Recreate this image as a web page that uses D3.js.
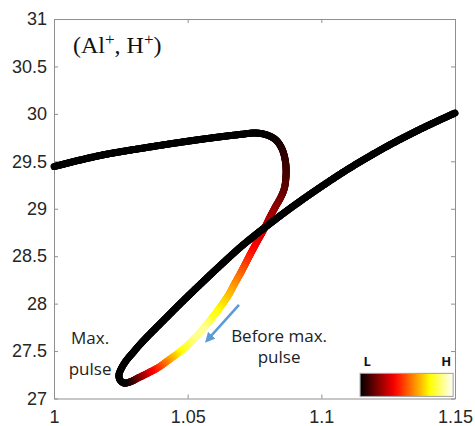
<!DOCTYPE html>
<html>
<head>
<meta charset="utf-8">
<script src="https://cdn.jsdelivr.net/npm/d3@7"></script>
<style>
  html, body { margin: 0; padding: 0; background: #fff; }
  svg { display: block; }
</style>
</head>
<body>
<svg id="chart" width="475" height="426"></svg>
<script>
// ---------- data ----------
const xTicks = [1, 1.05, 1.1, 1.15];
const xTickLabels = ["1", "1.05", "1.1", "1.15"];
const yTicks = [27, 27.5, 28, 28.5, 29, 29.5, 30, 30.5, 31];
const yTickLabels = ["27", "27.5", "28", "28.5", "29", "29.5", "30", "30.5", "31"];

// trajectory (x, y), in path order
const curveX = [1.0000, 1.0172, 1.0359, 1.0546, 1.0696, 1.0756, 1.0797, 1.0830, 1.0853, 1.0866,
                1.0868, 1.0862, 1.0849, 1.0830, 1.0808, 1.0786, 1.0759, 1.0733, 1.0700, 1.0677,
                1.0655, 1.0625, 1.0591, 1.0554, 1.0516, 1.0475, 1.0434, 1.0393, 1.0352, 1.0314,
                1.0284, 1.0262, 1.0247, 1.0243, 1.0251, 1.0269, 1.0296, 1.0325, 1.0359, 1.0415,
                1.0471, 1.0527, 1.0584, 1.0640, 1.0696, 1.0741, 1.0789, 1.0883, 1.0995, 1.1107,
                1.1238, 1.1369, 1.1500];
const curveY = [29.445, 29.561, 29.651, 29.730, 29.783, 29.798, 29.777, 29.725, 29.630, 29.493,
                29.356, 29.219, 29.124, 29.029, 28.913, 28.787, 28.650, 28.513, 28.333, 28.217,
                28.101, 27.975, 27.849, 27.722, 27.606, 27.501, 27.416, 27.332, 27.269, 27.216,
                27.174, 27.163, 27.195, 27.248, 27.311, 27.395, 27.485, 27.580, 27.680, 27.838,
                27.996, 28.149, 28.302, 28.449, 28.592, 28.697, 28.803, 29.003, 29.224, 29.430,
                29.646, 29.837, 30.009];
// pulse intensity along the path (0 = L, 1 = H)
const intensity = [0, 0, 0, 0, 0, 0, 0, 0.02, 0.05, 0.08,
                   0.10, 0.13, 0.16, 0.20, 0.24, 0.29, 0.34, 0.40, 0.50, 0.57,
                   0.64, 0.71, 0.78, 0.90, 0.88, 0.78, 0.64, 0.49, 0.35, 0.21,
                   0.09, 0.02, 0, 0, 0, 0, 0, 0, 0, 0,
                   0, 0, 0, 0, 0, 0, 0, 0, 0, 0,
                   0, 0, 0];

// ---------- layout ----------
const svg = d3.select("#chart");
const mLeft = 54, mRight = 455, mTop = 19, mBottom = 398.5;
const x = d3.scaleLinear().domain([1, 1.15]).range([mLeft, mRight]);
const y = d3.scaleLinear().domain([27, 31]).range([mBottom, mTop]);

const axisColor = "#8f8f8f";
const textColor = "#262626";

// "hot" colour map
function hot(t) {
  t = Math.max(0, Math.min(1, t));
  const r = Math.min(1, t / 0.375);
  const g = Math.max(0, Math.min(1, (t - 0.375) / 0.375));
  const b = Math.max(0, Math.min(1, (t - 0.75) / 0.25));
  return d3.rgb(r * 255, g * 255, b * 255).toString();
}

// ---------- axes ----------
function styleAxis(g) {
  g.select(".domain").attr("stroke", axisColor).attr("stroke-width", 1);
  g.selectAll(".tick line").attr("stroke", axisColor);
  g.selectAll(".tick text").attr("fill", textColor)
    .style("font-family", "'Liberation Sans', Arial, sans-serif").style("font-size", "18px");
}
svg.append("g").attr("transform", `translate(0,${mBottom})`)
  .call(d3.axisBottom(x).tickValues(xTicks).tickFormat((d, i) => xTickLabels[i])
        .tickSizeInner(-4).tickSizeOuter(0).tickPadding(12))
  .call(styleAxis);
svg.append("g").attr("transform", `translate(0,${mTop})`)
  .call(d3.axisTop(x).tickValues(xTicks).tickFormat("").tickSizeInner(-4).tickSizeOuter(0))
  .call(styleAxis);
svg.append("g").attr("transform", `translate(${mLeft},0)`)
  .call(d3.axisLeft(y).tickValues(yTicks).tickFormat((d, i) => yTickLabels[i])
        .tickSizeInner(-4).tickSizeOuter(0).tickPadding(7))
  .call(styleAxis);
svg.append("g").attr("transform", `translate(${mRight},0)`)
  .call(d3.axisRight(y).tickValues(yTicks).tickFormat("").tickSizeInner(-4).tickSizeOuter(0))
  .call(styleAxis);

// ---------- trajectory with colour along path ----------
const pts = curveX.map((d, i) => [x(d), y(curveY[i])]);
const lineGen = d3.line().curve(d3.curveCatmullRom.alpha(0.5));
const guide = svg.append("path").attr("d", lineGen(pts)).attr("fill", "none").attr("stroke", "none");
const total = guide.node().getTotalLength();

// cumulative length at each vertex
const tmp = svg.append("path").attr("fill", "none").attr("stroke", "none");
const vLen = pts.map((p, i) => {
  if (i === 0) return 0;
  if (i === pts.length - 1) return total;
  tmp.attr("d", lineGen(pts.slice(0, i + 1)));
  return tmp.node().getTotalLength();
});
tmp.remove();
const tAt = d3.scaleLinear().domain(vLen).range(intensity).clamp(true);

const segG = svg.append("g");
const step = 1;
for (let L = 0; L < total; L += step) {
  const a = guide.node().getPointAtLength(L);
  const b = guide.node().getPointAtLength(Math.min(total, L + step));
  segG.append("line")
    .attr("x1", a.x).attr("y1", a.y).attr("x2", b.x).attr("y2", b.y)
    .attr("stroke", hot(tAt(L + step / 2)))
    .attr("stroke-width", 7)
    .attr("stroke-linecap", "round");
}

// ---------- annotations ----------
svg.append("text")
  .attr("x", x(1.0071)).attr("y", y(30.642))
  .style("font-family", "'Liberation Serif', 'DejaVu Serif', serif")
  .style("font-size", "24px").attr("fill", "#111")
  .call(t => {
    t.append("tspan").text("(Al");
    t.append("tspan").text("+").attr("dy", -8).style("font-size", "17px");
    t.append("tspan").text(", H").attr("dy", 8);
    t.append("tspan").text("+").attr("dy", -8).style("font-size", "17px");
    t.append("tspan").text(")").attr("dy", 8);
  });

const annFont = "'Open Sans', 'Noto Sans', sans-serif";
function label(lines, cx, ys) {
  lines.forEach((s, i) => {
    svg.append("text").attr("x", x(cx)).attr("y", y(ys[i]))
      .attr("text-anchor", "middle").attr("fill", "#222")
      .style("font-family", annFont).style("font-size", "17px").text(s);
  });
}
label(["Max.", "pulse"], 1.0135, [27.575, 27.248]);
label(["Before max.", "pulse"], 1.0842, [27.596, 27.369]);

// blue arrow
const defs = svg.append("defs");
defs.append("marker").attr("id", "ah").attr("viewBox", "0 0 10 10")
  .attr("refX", 6).attr("refY", 5).attr("markerWidth", 4).attr("markerHeight", 4)
  .attr("orient", "auto")
  .append("path").attr("d", "M0,0 L10,5 L0,10 z").attr("fill", "#5b9bd5");
svg.append("line")
  .attr("x1", x(1.0692)).attr("y1", y(27.986))
  .attr("x2", x(1.0575)).attr("y2", y(27.62))
  .attr("stroke", "#5b9bd5").attr("stroke-width", 2.5)
  .attr("marker-end", "url(#ah)");

// ---------- colour bar legend ----------
const grad = defs.append("linearGradient").attr("id", "hotgrad");
d3.range(0, 1.0001, 0.05).forEach(t => {
  grad.append("stop").attr("offset", t).attr("stop-color", hot(t));
});
const cbX0 = x(1.1145), cbX1 = x(1.1493), cbY0 = y(27.265), cbY1 = y(27.022);
svg.append("rect").attr("x", cbX0).attr("y", cbY0)
  .attr("width", cbX1 - cbX0).attr("height", cbY1 - cbY0)
  .attr("fill", "url(#hotgrad)").attr("stroke", "#a0a0a0").attr("stroke-width", 1);
svg.append("text").attr("x", cbX0 + 7).attr("y", cbY0 - 7)
  .attr("text-anchor", "middle").attr("fill", "#111")
  .style("font-family", annFont).style("font-weight", "bold").style("font-size", "13px").text("L");
svg.append("text").attr("x", cbX1 - 7).attr("y", cbY0 - 7)
  .attr("text-anchor", "middle").attr("fill", "#111")
  .style("font-family", annFont).style("font-weight", "bold").style("font-size", "13px").text("H");
</script>
</body>
</html>
